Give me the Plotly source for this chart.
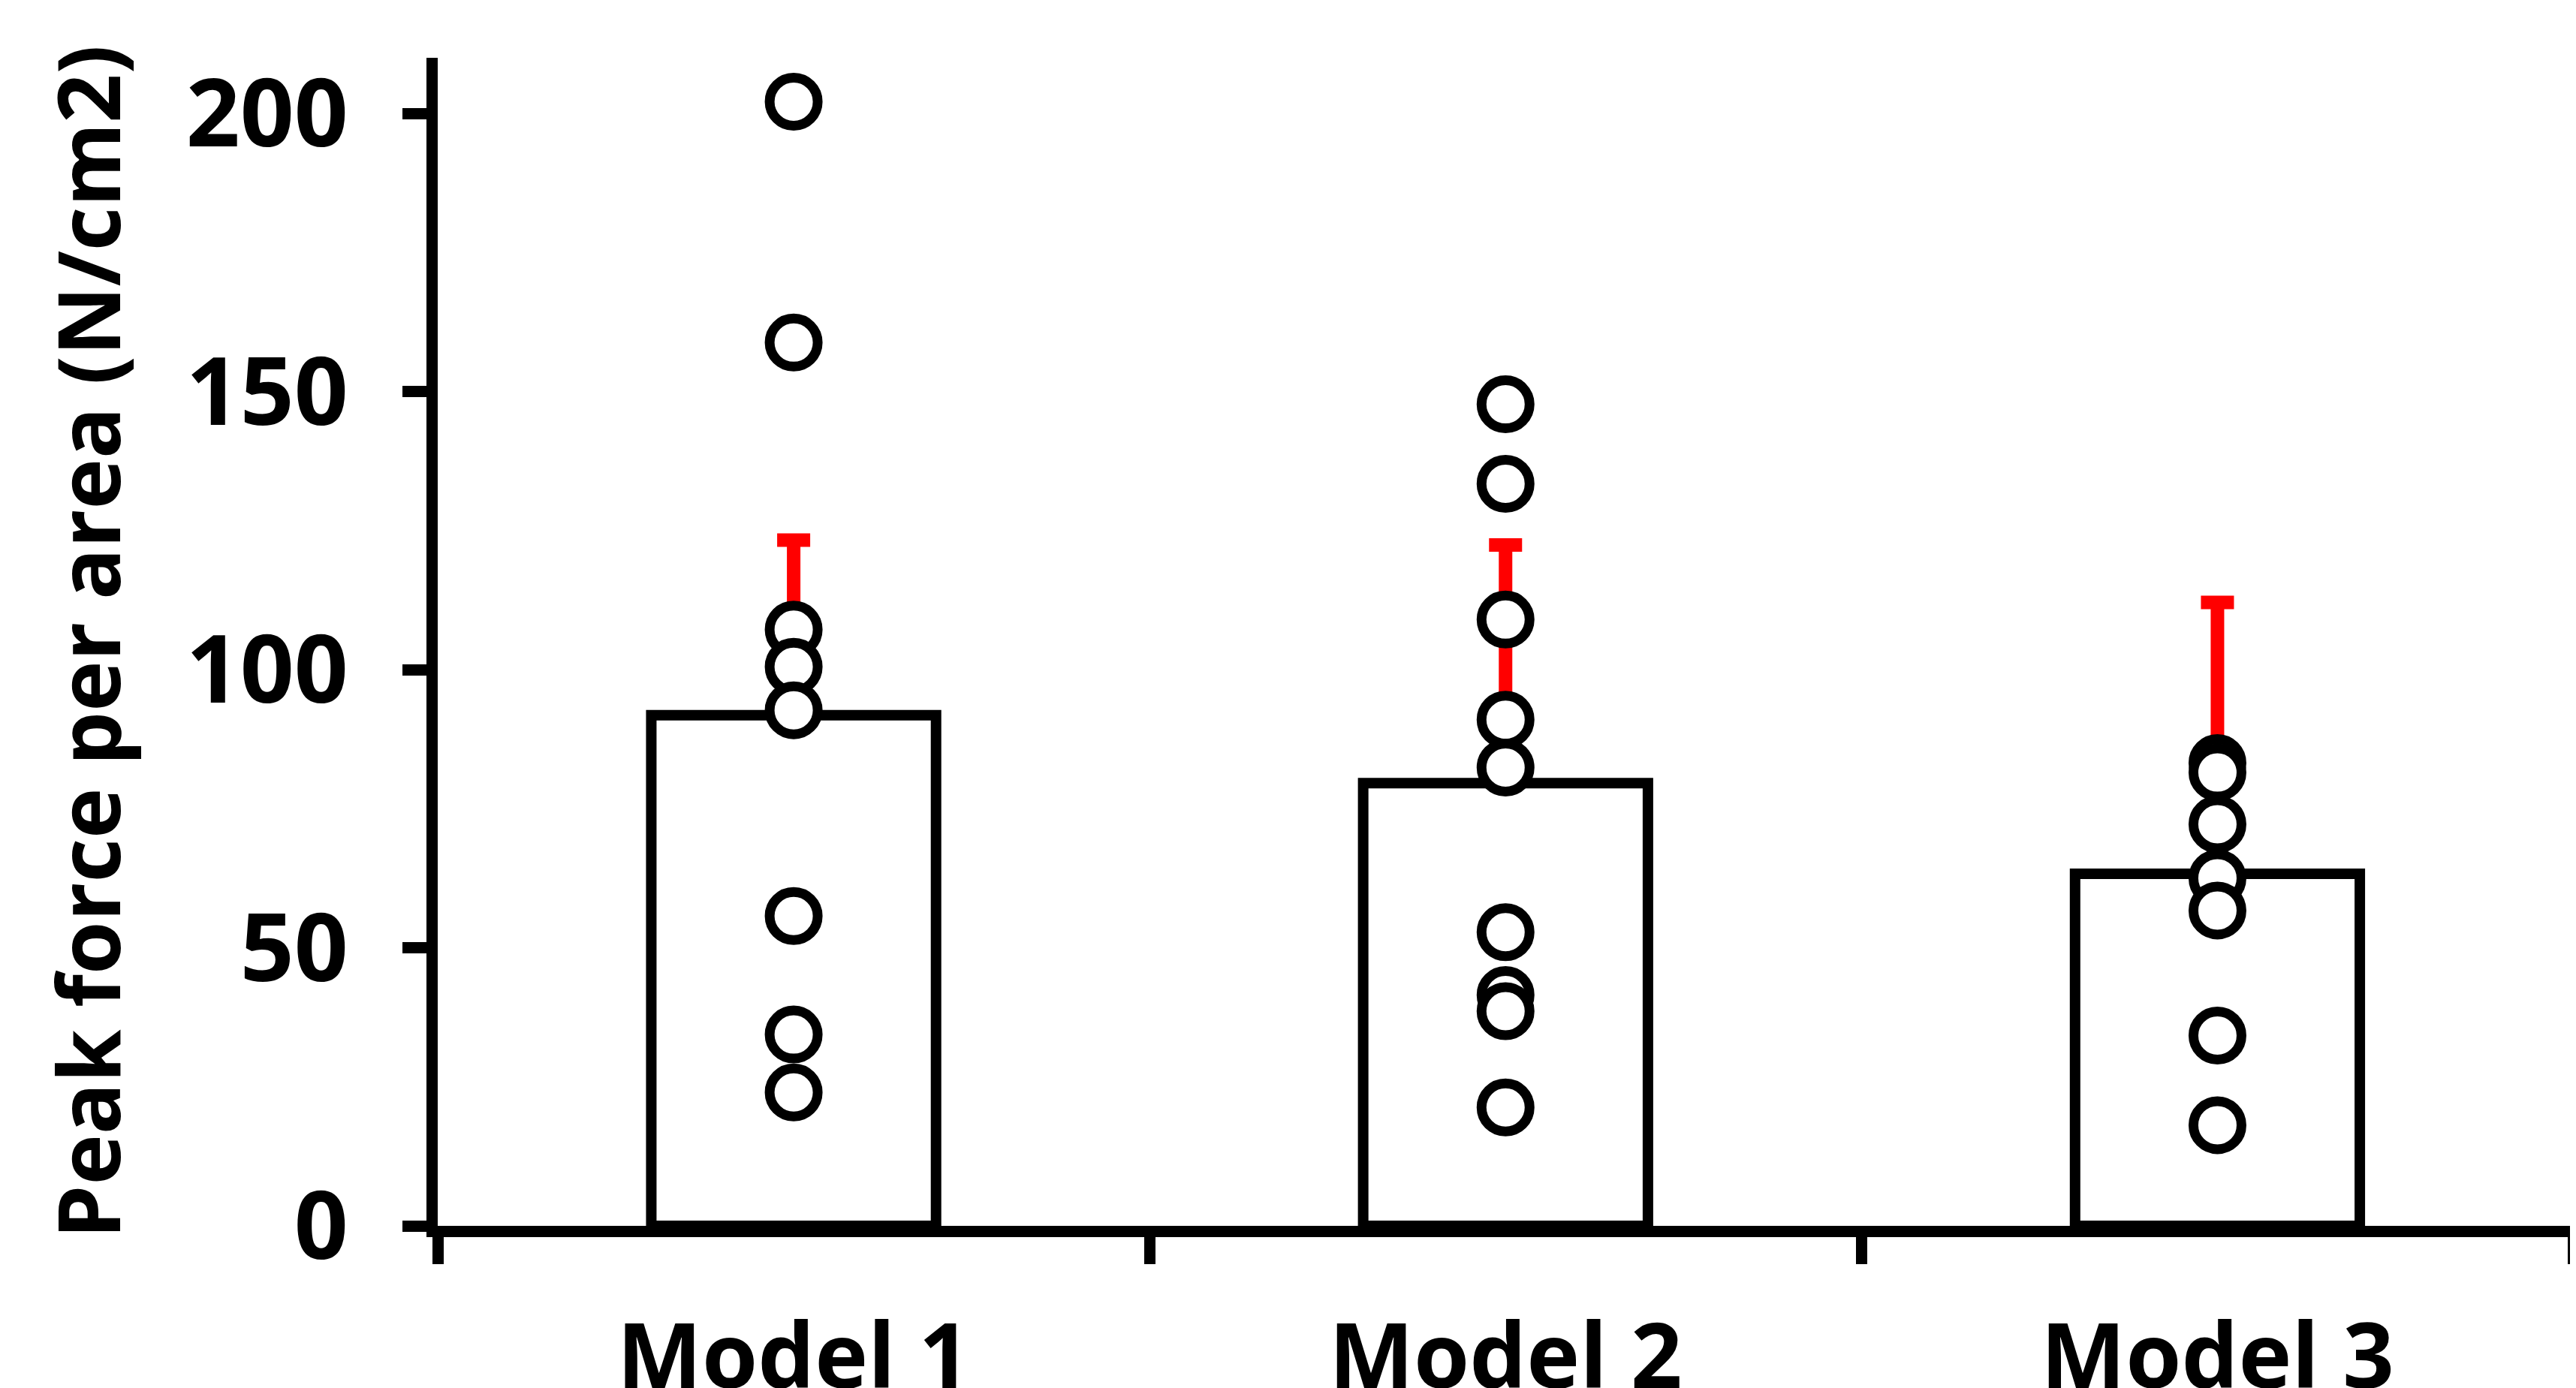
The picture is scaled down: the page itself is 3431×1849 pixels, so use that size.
import plotly.graph_objects as go

categories = ["Model 1", "Model 2", "Model 3"]
bar_means = [91.8, 79.6, 63.3]
err_upper = [31.5, 42.8, 48.8]

pts_model1 = [202.1, 158.8, 107.2, 100.5, 92.7, 55.7, 34.4, 24.0]
pts_model2 = [147.7, 133.4, 109.0, 91.0, 82.4, 52.8, 41.5, 38.6, 21.3]
pts_model3 = [83.2, 81.5, 72.2, 62.5, 56.7, 34.2, 18.1]

y_ticks = [0, 50, 100, 150, 200]

FONT = "Open Sans"

xpos = list(range(len(categories)))
bounds = [p - 0.5 for p in xpos] + [xpos[-1] + 0.5]
xrange = [bounds[0], bounds[-1] + 0.0005]

fig = go.Figure()

fig.add_trace(go.Bar(
    x=xpos, y=bar_means, width=0.4,
    marker=dict(color="white", line=dict(color="black", width=14)),
    error_y=dict(type="data", symmetric=False, array=err_upper,
                 arrayminus=[0] * len(err_upper),
                 color="#FF0000", thickness=18, width=22),
    showlegend=False, xaxis="x", yaxis="y",
))

for i, pts in enumerate([pts_model1, pts_model2, pts_model3]):
    fig.add_trace(go.Scatter(
        x=[xpos[i]] * len(pts), y=pts, mode="markers",
        marker=dict(symbol="circle", size=64, color="white",
                    line=dict(color="black", width=13)),
        showlegend=False, cliponaxis=False, xaxis="x2", yaxis="y",
    ))

fig.update_layout(
    width=3431, height=1849,
    margin=dict(l=575, r=11, t=69, b=224, autoexpand=False),
    paper_bgcolor="white", plot_bgcolor="white",
    font=dict(family=FONT, size=116, color="black"),
    bargap=0.6,
    xaxis=dict(
        range=xrange, automargin=False,
        tickmode="array", tickvals=bounds, showticklabels=False,
        ticks="outside", ticklen=36, tickwidth=15, tickcolor="black",
        showline=True, linecolor="black", linewidth=15,
        showgrid=False, zeroline=False,
    ),
    xaxis2=dict(
        overlaying="x", anchor="y", side="bottom", range=xrange,
        automargin=False,
        tickmode="array", tickvals=xpos, ticktext=categories,
        ticks="", showline=False, showgrid=False, zeroline=False,
        tickfont=dict(family=FONT, size=120, color="black", weight="bold"),
        ticklabelstandoff=95,
    ),
    yaxis=dict(
        range=[0, 210], automargin=False,
        tickmode="array", tickvals=y_ticks,
        ticks="outside", ticklen=32, tickwidth=15, tickcolor="black",
        showgrid=False, zeroline=False,
        showline=True, linecolor="black", linewidth=15,
        tickfont=dict(family=FONT, size=126, color="black", weight="bold"),
        ticklabelstandoff=47,
        title=dict(text="Peak force per area (N/cm2)",
                   font=dict(family=FONT, size=114, color="black", weight="bold"),
                   standoff=55),
    ),
)

fig.write_html("out.html")
